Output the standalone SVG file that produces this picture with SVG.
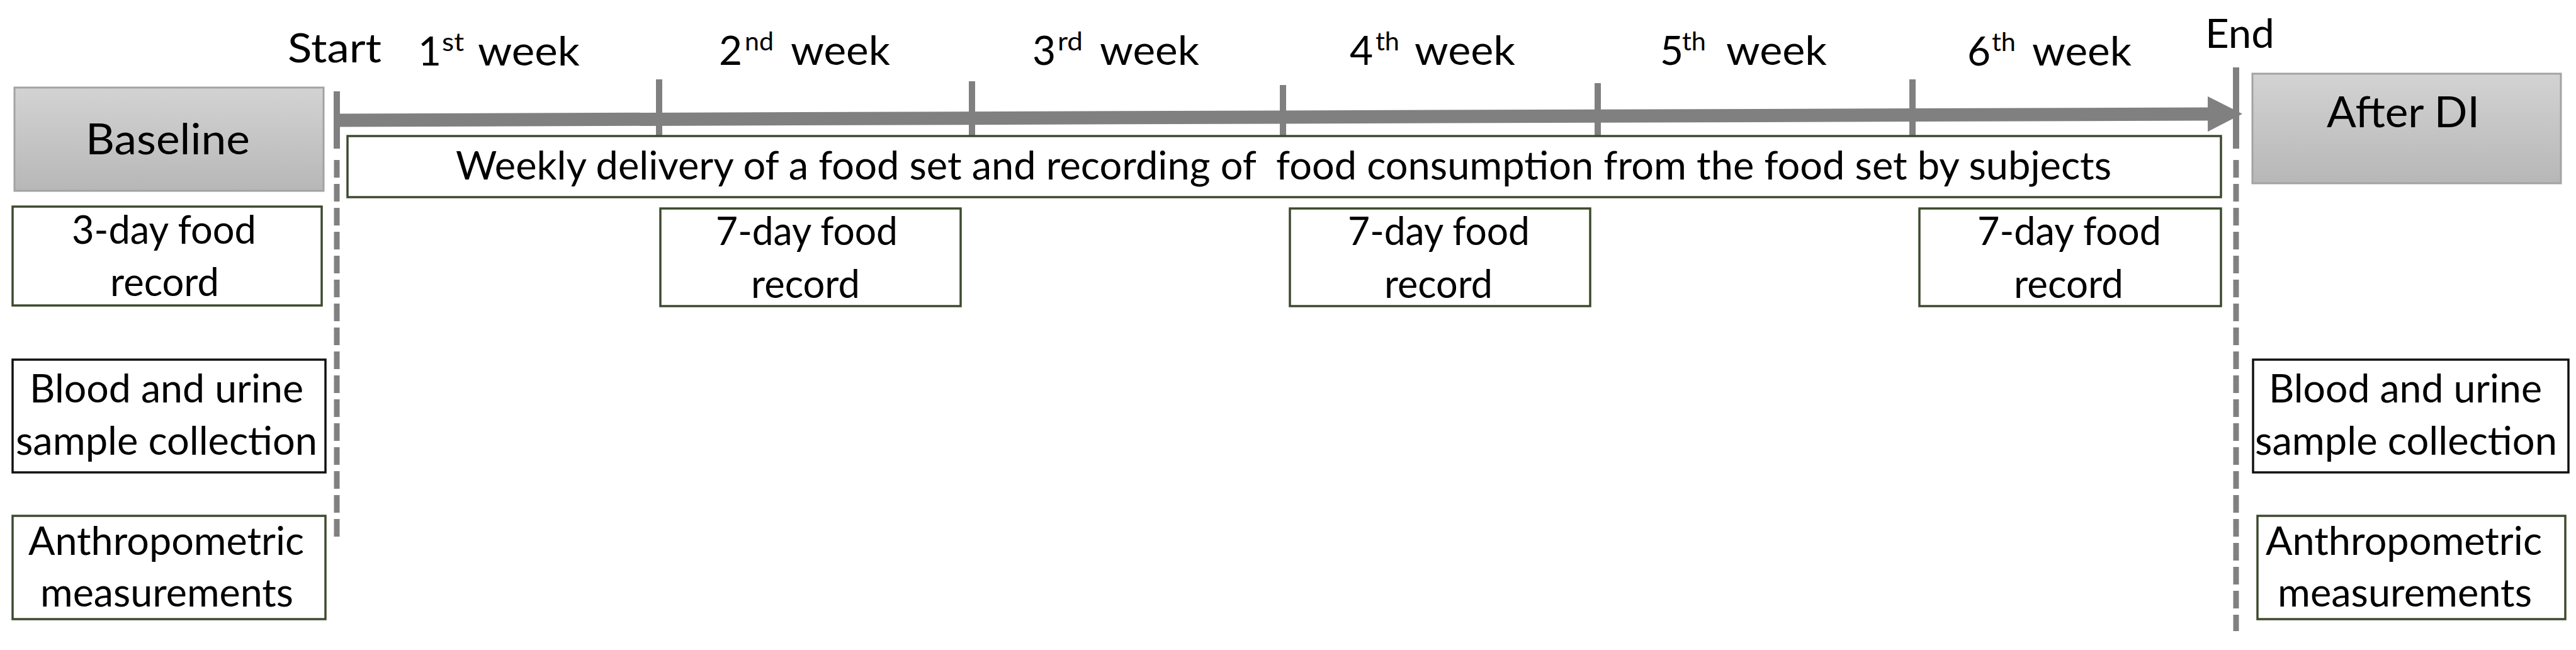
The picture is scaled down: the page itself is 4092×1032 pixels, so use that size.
<svg xmlns="http://www.w3.org/2000/svg" width="4092" height="1032" viewBox="0 0 4092 1032">
<style>
text{font-family:Lato,"Liberation Sans",sans-serif;fill:#000;font-size:64px}
.bt{font-size:62px}
.big{font-size:67px}
.box{fill:#fff;stroke:#3d4a2e;stroke-width:3.5}
.bbox{fill:#fff;stroke:#111;stroke-width:3.5}
.gbox{fill:url(#g);stroke:#a3a3a3;stroke-width:3}
.tick{stroke:#808080;stroke-width:10;fill:none}
.dash{stroke:#808080;stroke-width:9;fill:none;stroke-dasharray:28 10}
.sup{font-size:40px}
</style>
<defs>
<linearGradient id="g" x1="0" y1="0" x2="0" y2="1">
<stop offset="0" stop-color="#d3d3d3"/>
<stop offset="1" stop-color="#b7b7b7"/>
</linearGradient>
<marker id="ah" markerUnits="userSpaceOnUse" markerWidth="60" markerHeight="60" refX="0" refY="30" orient="auto" viewBox="0 0 60 60">
<path d="M0,2 L55,30 L0,58 Z" fill="#808080"/>
</marker>
</defs>
<g id="labels">
<text x="457" y="99" textLength="149" lengthAdjust="spacingAndGlyphs">Start</text>
<text x="3503" y="76" textLength="110" lengthAdjust="spacingAndGlyphs">End</text>
<text y="104"><tspan x="664">1</tspan><tspan class="sup" x="702" dy="-23" textLength="35" lengthAdjust="spacingAndGlyphs">st</tspan><tspan x="759" dy="23" textLength="162" lengthAdjust="spacingAndGlyphs">week</tspan></text>
<text y="103"><tspan x="1142">2</tspan><tspan class="sup" x="1183" dy="-23" textLength="46" lengthAdjust="spacingAndGlyphs">nd</tspan><tspan x="1256" dy="23" textLength="158" lengthAdjust="spacingAndGlyphs">week</tspan></text>
<text y="103"><tspan x="1640">3</tspan><tspan class="sup" x="1680" dy="-23" textLength="40" lengthAdjust="spacingAndGlyphs">rd</tspan><tspan x="1747" dy="23" textLength="158" lengthAdjust="spacingAndGlyphs">week</tspan></text>
<text y="103"><tspan x="2144">4</tspan><tspan class="sup" x="2185" dy="-23" textLength="38" lengthAdjust="spacingAndGlyphs">th</tspan><tspan x="2247" dy="23" textLength="160" lengthAdjust="spacingAndGlyphs">week</tspan></text>
<text y="103"><tspan x="2637">5</tspan><tspan class="sup" x="2672" dy="-23" textLength="38" lengthAdjust="spacingAndGlyphs">th</tspan><tspan x="2742" dy="23" textLength="160" lengthAdjust="spacingAndGlyphs">week</tspan></text>
<text y="104"><tspan x="3125">6</tspan><tspan class="sup" x="3164" dy="-23" textLength="38" lengthAdjust="spacingAndGlyphs">th</tspan><tspan x="3228" dy="23" textLength="158" lengthAdjust="spacingAndGlyphs">week</tspan></text>
</g>
<g id="connectors">
<line x1="535" y1="191" x2="3507" y2="181" stroke="#808080" stroke-width="21" marker-end="url(#ah)"/>
<line class="tick" x1="535" y1="145" x2="535" y2="236"/>
<line class="dash" x1="535" y1="254" x2="535" y2="859"/>
<line class="tick" x1="3552" y1="107" x2="3552" y2="236"/>
<line class="dash" x1="3552" y1="254" x2="3552" y2="1002"/>
<line class="tick" x1="1047" y1="126" x2="1047" y2="220"/>
<line class="tick" x1="1544" y1="129" x2="1544" y2="223"/>
<line class="tick" x1="2038" y1="135" x2="2038" y2="230"/>
<line class="tick" x1="2538" y1="132" x2="2538" y2="227"/>
<line class="tick" x1="3038" y1="126" x2="3038" y2="220"/>
</g>
<g id="baseline">
<rect class="gbox" x="23" y="139" width="491" height="164"/>
<text class="big" x="136" y="245" textLength="261" lengthAdjust="spacingAndGlyphs">Baseline</text>
</g>
<g id="afterdi">
<rect class="gbox" x="3578" y="117" width="490" height="174"/>
<text class="big" x="3696" y="202" textLength="243" lengthAdjust="spacingAndGlyphs">After DI</text>
</g>
<g id="weekly">
<rect class="box" x="552" y="216" width="2976" height="97"/>
<text class="bt" x="724" y="285" xml:space="preserve" textLength="2630" lengthAdjust="spacingAndGlyphs">Weekly delivery of a food set and recording of  food consumption from the food set by subjects</text>
</g>
<g id="food3">
<rect class="box" x="20" y="328" width="491" height="157"/>
<text class="bt" x="114" y="387" textLength="293" lengthAdjust="spacingAndGlyphs">3-day food</text>
<text class="bt" x="175" y="470" textLength="173" lengthAdjust="spacingAndGlyphs">record</text>
</g>
<g id="food7a">
<rect class="box" x="1049" y="331" width="477" height="155"/>
<text class="bt" x="1137" y="389" textLength="289" lengthAdjust="spacingAndGlyphs">7-day food</text>
<text class="bt" x="1193" y="473" textLength="173" lengthAdjust="spacingAndGlyphs">record</text>
</g>
<g id="food7b">
<rect class="box" x="2049" y="331" width="477" height="155"/>
<text class="bt" x="2141" y="389" textLength="289" lengthAdjust="spacingAndGlyphs">7-day food</text>
<text class="bt" x="2199" y="473" textLength="172" lengthAdjust="spacingAndGlyphs">record</text>
</g>
<g id="food7c">
<rect class="box" x="3049" y="331" width="479" height="155"/>
<text class="bt" x="3141" y="389" textLength="292" lengthAdjust="spacingAndGlyphs">7-day food</text>
<text class="bt" x="3199" y="473" textLength="174" lengthAdjust="spacingAndGlyphs">record</text>
</g>
<g id="blood1">
<rect class="bbox" x="20" y="571" width="497" height="179"/>
<text class="bt" x="47" y="639" textLength="435" lengthAdjust="spacingAndGlyphs">Blood and urine</text>
<text class="bt" x="25" y="722" textLength="479" lengthAdjust="spacingAndGlyphs">sample collection</text>
</g>
<g id="anthro1">
<rect class="box" x="20" y="819" width="497" height="164"/>
<text class="bt" x="45" y="881" textLength="438" lengthAdjust="spacingAndGlyphs">Anthropometric</text>
<text class="bt" x="64" y="963" textLength="402" lengthAdjust="spacingAndGlyphs">measurements</text>
</g>
<g id="blood2">
<rect class="bbox" x="3579" y="571" width="501" height="179"/>
<text class="bt" x="3604" y="639" textLength="434" lengthAdjust="spacingAndGlyphs">Blood and urine</text>
<text class="bt" x="3582" y="722" textLength="480" lengthAdjust="spacingAndGlyphs">sample collection</text>
</g>
<g id="anthro2">
<rect class="box" x="3586" y="819" width="489" height="164"/>
<text class="bt" x="3599" y="881" textLength="439" lengthAdjust="spacingAndGlyphs">Anthropometric</text>
<text class="bt" x="3618" y="963" textLength="404" lengthAdjust="spacingAndGlyphs">measurements</text>
</g>
</svg>
